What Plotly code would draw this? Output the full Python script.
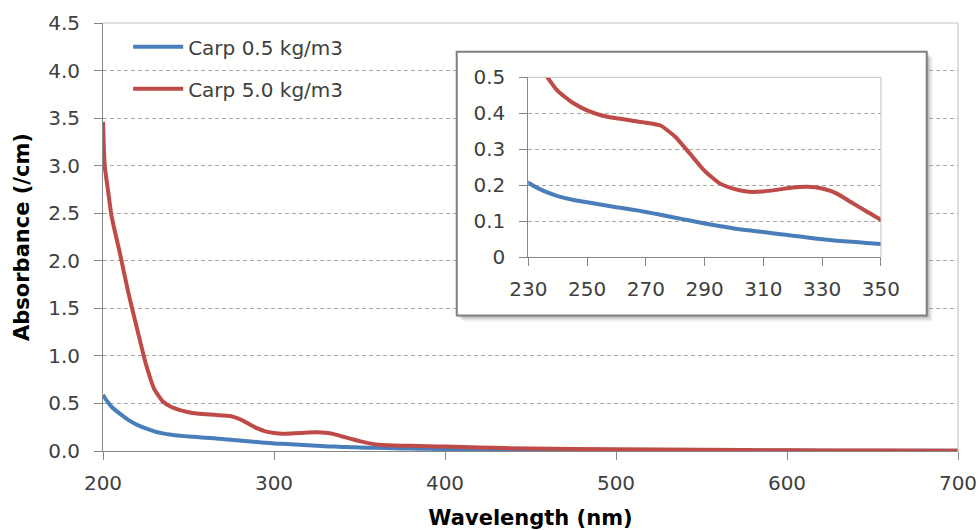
import plotly.graph_objects as go

wavelength = [200, 201, 203, 205, 210, 215, 220, 225, 230, 235, 240, 245, 250, 255, 260, 265, 270,
              275, 280, 285, 290, 295, 300, 305, 310, 315, 320, 325, 330, 335, 340, 345, 350,
              360, 370, 380, 390, 400, 420, 450, 500, 550, 600, 650, 700]

carp_05 = [0.59, 0.56, 0.51, 0.465, 0.39, 0.325, 0.275, 0.237, 0.207, 0.185, 0.170, 0.160, 0.153, 0.146, 0.139, 0.133, 0.126,
           0.118, 0.110, 0.102, 0.094, 0.087, 0.080, 0.075, 0.070, 0.065, 0.060, 0.055, 0.050, 0.046, 0.043, 0.040, 0.037,
           0.033, 0.029, 0.026, 0.023, 0.020, 0.016, 0.012, 0.008, 0.006, 0.004, 0.003, 0.002]

carp_50 = [3.46, 3.0, 2.73, 2.47, 2.07, 1.65, 1.28, 0.92, 0.65, 0.52, 0.462, 0.430, 0.408, 0.394, 0.386, 0.380, 0.374,
           0.366, 0.335, 0.288, 0.240, 0.206, 0.190, 0.182, 0.183, 0.188, 0.194, 0.196, 0.191, 0.177, 0.152, 0.128, 0.104,
           0.068, 0.058, 0.054, 0.050, 0.046, 0.036, 0.026, 0.018, 0.012, 0.008, 0.005, 0.003]

series_names = ["Carp 0.5 kg/m3", "Carp 5.0 kg/m3"]
main_yticks = [0, 0.5, 1.0, 1.5, 2.0, 2.5, 3.0, 3.5, 4.0, 4.5]
main_xticks = [200, 300, 400, 500, 600, 700]
inset_xticks = [230, 250, 270, 290, 310, 330, 350]
inset_yticks = [0, 0.1, 0.2, 0.3, 0.4, 0.5]

BLUE = "#4A7EBB"
RED = "#BE4B48"
AXIS = "#868686"
GRID = "#a6a6a6"
LIGHT = "#c0c0c0"
TXT = "#404040"
FONT = "DejaVu Sans"

fig = go.Figure()

# main traces
for name, vals, col, grp in [(series_names[0], carp_05, BLUE, "a"), (series_names[1], carp_50, RED, "b")]:
    fig.add_trace(go.Scatter(x=wavelength, y=vals, name=name, mode="lines",
                             line=dict(color=col, width=4, shape="spline", smoothing=0.5),
                             legendgroup=grp, xaxis="x", yaxis="y"))

# empty trace for inset box background subplot
fig.add_trace(go.Scatter(x=[], y=[], xaxis="x2", yaxis="y2", showlegend=False, hoverinfo="skip"))

# inset traces
for vals, col in [(carp_05, BLUE), (carp_50, RED)]:
    fig.add_trace(go.Scatter(x=wavelength, y=vals, mode="lines", showlegend=False,
                             line=dict(color=col, width=4, shape="spline", smoothing=0.5),
                             xaxis="x3", yaxis="y3"))

box_x = [0.4137, 0.9634]
box_y = [0.3166, 0.9330]
inset_x = [0.4974, 0.9099]
inset_y = [0.4526, 0.8731]

tickfont = dict(family=FONT, size=20, color=TXT)

fig.update_layout(
    width=978, height=530,
    margin=dict(l=103, r=20, t=23, b=79),
    paper_bgcolor="#ffffff",
    plot_bgcolor="#fffffe",
    font=dict(family=FONT, size=20, color=TXT),
    xaxis=dict(domain=[0, 1], range=[200, 700], tickvals=main_xticks, automargin=False,
               showline=True, linecolor=AXIS, linewidth=1,
               ticks="outside", ticklen=8, tickcolor=AXIS, tickfont=tickfont,
               ticklabelstandoff=6,
               showgrid=False, zeroline=False,
               title=dict(text="Wavelength (nm)", standoff=17,
                          font=dict(family=FONT, size=21, color="#000000", weight="bold"))),
    yaxis=dict(domain=[0, 1], range=[0, 4.5], tickvals=main_yticks, tickformat=".1f", automargin=False,
               showline=True, linecolor=AXIS, linewidth=1,
               ticks="outside", ticklen=8, tickcolor=AXIS, tickfont=tickfont,
               ticklabelstandoff=10,
               showgrid=True, gridcolor=GRID, griddash="4px,3px", gridwidth=1,
               zeroline=False,
               title=dict(text="Absorbance (/cm)", standoff=12,
                          font=dict(family=FONT, size=21, color="#000000", weight="bold"))),
    xaxis2=dict(domain=box_x, range=[0, 1], visible=False, anchor="y2", fixedrange=True, automargin=False),
    yaxis2=dict(domain=box_y, range=[0, 1], visible=False, anchor="x2", fixedrange=True, automargin=False),
    xaxis3=dict(domain=inset_x, range=[230, 350], tickvals=inset_xticks, anchor="y3", automargin=False,
                showline=True, linecolor=AXIS, linewidth=1,
                ticks="outside", ticklen=8, tickcolor=AXIS, tickfont=tickfont,
                ticklabelstandoff=6,
                showgrid=False, zeroline=False),
    yaxis3=dict(domain=inset_y, range=[0, 0.5], tickvals=inset_yticks, anchor="x3", automargin=False,
                showline=True, linecolor=AXIS, linewidth=1,
                ticks="outside", ticklen=8, tickcolor=AXIS, tickfont=tickfont,
                ticklabelstandoff=10,
                showgrid=True, gridcolor=GRID, griddash="4px,3px", gridwidth=1,
                zeroline=False),
    legend=dict(x=0.0294, y=0.99, xanchor="left", yanchor="top",
                bgcolor="rgba(0,0,0,0)", font=dict(family=FONT, size=20, color=TXT),
                itemwidth=50, tracegroupgap=13, traceorder="grouped"),
    showlegend=True,
)

shapes = []
# shadow of the inset box
pxx = 1.0 / 855
pxy = 1.0 / 428
for d, op in [(6, 0.06), (4, 0.10), (2, 0.16)]:
    shapes.append(dict(type="rect", xref="paper", yref="paper", layer="below",
                       x0=box_x[0] + d * pxx, x1=box_x[1] + d * pxx,
                       y0=box_y[0] - d * pxy, y1=box_y[1] - d * pxy,
                       line=dict(width=0), fillcolor=f"rgba(0,0,0,{op})"))
# inset box border
shapes.append(dict(type="rect", xref="paper", yref="paper", layer="above",
                   x0=box_x[0], x1=box_x[1], y0=box_y[0], y1=box_y[1],
                   line=dict(color="#808080", width=2), fillcolor="rgba(0,0,0,0)"))
# main plot-area top and right borders
shapes.append(dict(type="line", xref="paper", yref="paper", layer="above",
                   x0=0, x1=1, y0=1, y1=1, line=dict(color=LIGHT, width=1)))
shapes.append(dict(type="line", xref="paper", yref="paper", layer="above",
                   x0=1, x1=1, y0=0, y1=1, line=dict(color=LIGHT, width=1)))
# inset plot-area top and right borders
shapes.append(dict(type="line", xref="x3 domain", yref="y3 domain", layer="above",
                   x0=0, x1=1, y0=1, y1=1, line=dict(color=LIGHT, width=1)))
shapes.append(dict(type="line", xref="x3 domain", yref="y3 domain", layer="above",
                   x0=1, x1=1, y0=0, y1=1, line=dict(color=LIGHT, width=1)))
fig.update_layout(shapes=shapes)

fig.write_html("out.html")
